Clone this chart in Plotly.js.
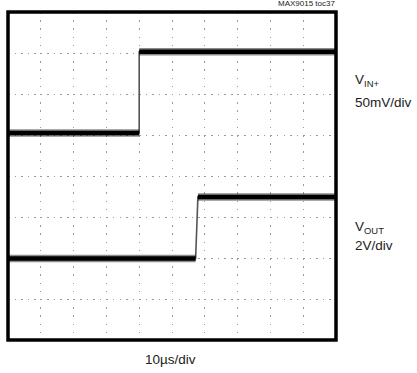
<!DOCTYPE html>
<html>
<head>
<meta charset="utf-8">
<script src="https://cdn.plot.ly/plotly-3.0.1.min.js"></script>
<style>html,body{margin:0;padding:0;background:#fff;}#chart{width:417px;height:373px;}</style>
</head>
<body>
<div id="chart"></div>
<script>
// Data (divisions): time axis 0..10 div (10us/div), vertical 0..8 div
const vinTime = [0, 4, 4, 10];
const vinLevel = [5.05, 5.05, 7.03, 7.03];
const voutTime = [0, 5.72, 5.79, 10];
const voutLevel = [1.99, 1.99, 3.49, 3.49];
const xLabel = "10\u00b5s/div";
const vinLabel = ["V<sub>IN+</sub>", "50mV/div"];
const voutLabel = ["V<sub>OUT</sub>", "2V/div"];
const docLabel = "MAX9015 toc37";

function flats(t, v) {
  return { x: [t[0], t[1], null, t[2], t[3]], y: [v[0], v[1], null, v[2], v[3]] };
}
const FONT = "Liberation Sans Narrow, Arial Narrow, Liberation Sans, Arial, sans-serif";
const traces = [];
[[vinTime, vinLevel], [voutTime, voutLevel]].forEach(([t, v]) => {
  traces.push({ x: t, y: v, mode: "lines", line: { color: "#555", width: 1.6 }, hoverinfo: "skip" });
  const f = flats(t, v);
  traces.push({ x: f.x, y: f.y, mode: "lines", line: { color: "rgba(0,0,0,0.45)", width: 7.5 }, hoverinfo: "skip" });
  traces.push({ x: f.x, y: f.y, mode: "lines", line: { color: "#000", width: 4.5 }, hoverinfo: "skip" });
});

const L = 8, T = 12, W = 328, H = 328;
const px = x => (x - L) / W;
const py = y => (T + H - y) / H;
function ann(text, x, y, size, xanchor) {
  return { text: text, xref: "paper", yref: "paper", x: px(x), y: py(y), xanchor: xanchor, yanchor: "middle",
    showarrow: false, align: "left", font: { family: FONT, size: size, color: "#222" } };
}
const layout = {
  width: 417, height: 373,
  margin: { l: L, r: 417 - L - W, t: T, b: 373 - T - H, pad: 0 },
  paper_bgcolor: "#fff", plot_bgcolor: "#fff",
  showlegend: false,
  xaxis: { range: [0, 10], dtick: 1, tick0: 0, showgrid: true, gridcolor: "#999", gridwidth: 1,
    griddash: "1.5px,6.7px", zeroline: false, showticklabels: false, ticks: "", showline: false, fixedrange: true },
  yaxis: { range: [0, 8], dtick: 1, tick0: 0, showgrid: true, gridcolor: "#999", gridwidth: 1,
    griddash: "1.5px,5.06px", zeroline: false, showticklabels: false, ticks: "", showline: false, fixedrange: true },
  shapes: [{ type: "rect", xref: "paper", yref: "paper", x0: 0, x1: 1, y0: 0, y1: 1,
    line: { color: "#000", width: 3.5 }, layer: "above" }],
  annotations: [
    ann(docLabel, 337, 4, 8, "right"),
    ann(vinLabel[0], 353, 81, 13.5, "left"),
    ann(vinLabel[1], 353, 102, 13.5, "left"),
    ann(voutLabel[0], 353, 228, 13.5, "left"),
    ann(voutLabel[1], 353, 245, 13.5, "left"),
    ann(xLabel, 170, 359, 13.5, "center")
  ]
};
Plotly.newPlot("chart", traces, layout, { staticPlot: true, displayModeBar: false });
</script>
</body>
</html>
